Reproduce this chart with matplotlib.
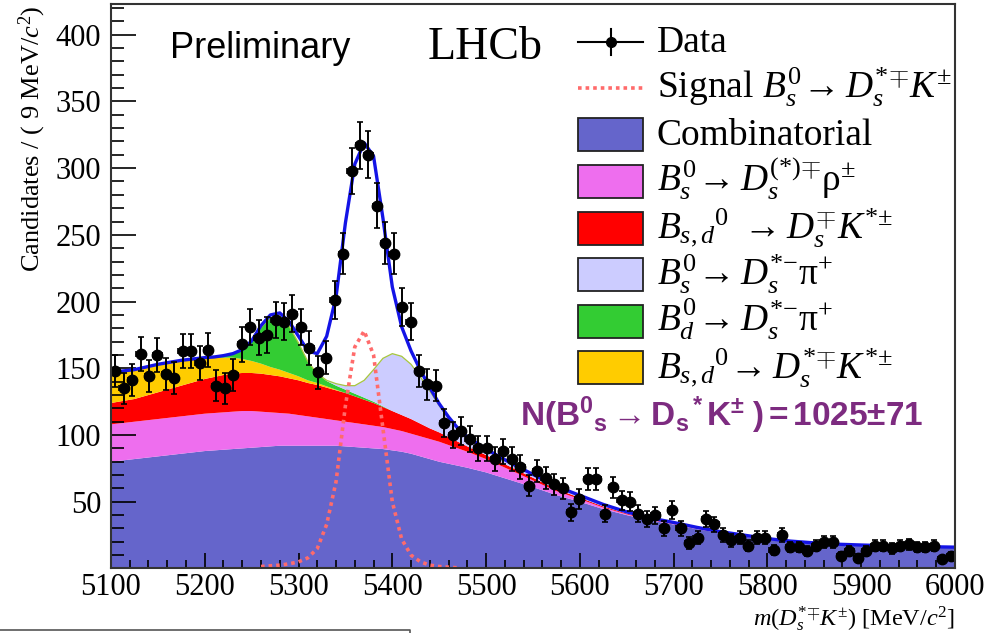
import numpy as np
import matplotlib
matplotlib.use("Agg")
import matplotlib.pyplot as plt
from matplotlib.patches import Rectangle
from matplotlib.lines import Line2D

plt.rcParams["font.family"] = "Liberation Serif"
plt.rcParams["mathtext.fontset"] = "custom"
plt.rcParams["mathtext.rm"] = "Liberation Serif"
plt.rcParams["mathtext.it"] = "Liberation Serif:italic"
plt.rcParams["mathtext.bf"] = "Liberation Sans:bold"
plt.rcParams["mathtext.sf"] = "Liberation Sans"

# data: candidates per 9 MeV bin, 5100-6000
counts = np.array([
    148, 135, 141, 161, 144, 160, 146, 143, 163, 163,
    154, 164, 137, 135, 145, 168, 181, 173, 175, 186,
    185, 191, 181, 165, 147, 158, 201, 236, 298, 317,
    310, 272, 244, 236, 196, 185, 148, 138, 137, 109,
    100, 103, 97, 90, 90, 82, 88, 82, 76, 62,
    73, 68, 63, 60, 42, 52, 67, 67, 41, 61,
    51, 50, 41, 37, 40, 30, 44, 30, 19, 23,
    37, 33, 25, 21, 23, 17, 23, 23, 14, 25,
    16, 16, 13, 17, 20, 20, 9, 13, 8, 13,
    17, 17, 15, 17, 18, 16, 16, 17, 7, 9,
])
bin_centers = 5104.5 + 9 * np.arange(len(counts))

# fit components
mass_grid = np.array([
    5100, 5125, 5150, 5175, 5200, 5210, 5220, 5230, 5240, 5250,
    5260, 5270, 5280, 5290, 5300, 5310, 5320, 5330, 5340, 5350,
    5360, 5370, 5380, 5390, 5400, 5410, 5420, 5430, 5440, 5450,
    5460, 5470, 5480, 5500, 5525, 5550, 5575, 5600, 5625, 5650,
    5675, 5700, 5725, 5750, 5775, 5800, 5825, 5850, 5875, 5900,
    5925, 5950, 5975, 6000,
])
comb = np.array([
    80, 82, 84, 86, 88, 88.5, 89, 89.5, 90, 90.5,
    91, 91.5, 92, 92, 92, 92, 92, 92, 92, 91.5,
    91, 90.5, 90, 89.5, 88.5, 87.5, 86, 84, 82, 80,
    78.5, 77, 75.5, 72, 66.5, 61, 55, 50, 44.5, 40,
    36, 33, 29.5, 26.5, 24, 21.5, 19.8, 18.5, 17.5, 17,
    16.5, 16, 15.7, 15.4,
])
ds_rho = np.array([
    28, 28, 28, 28, 28, 28, 28, 28, 28, 27.5,
    26.5, 25.5, 24.5, 24, 23, 22, 21, 20, 19, 18.5,
    18, 17.5, 17, 16.5, 16, 15.5, 15, 15, 15, 15,
    14, 13, 12, 10, 7.5, 5, 3, 2, 1.2, 0.6,
    0.4, 0.3, 0.3, 0.2, 0.2, 0.2, 0.1, 0.1, 0.1, 0.1,
    0.1, 0.1, 0.1, 0.1,
])
ds_kst = np.array([
    16, 17, 20, 23, 26, 27, 28, 28.5, 28.5, 28.5,
    28.5, 28, 27.5, 26.5, 26, 25, 24.5, 23.5, 22.5, 21.5,
    20, 18.5, 17, 15, 13.5, 12, 11, 9.5, 8, 7,
    6, 5, 4, 3, 2.5, 2, 1.5, 1, 0.8, 0.6,
    0.5, 0.4, 0.3, 0.3, 0.3, 0.2, 0.2, 0.2, 0.2, 0.2,
    0.2, 0.2, 0.2, 0.2,
])
dsst_kst = np.array([
    23, 22, 21, 19, 16, 14.5, 13, 12, 10.5, 9,
    7.5, 6, 5, 4, 3, 2, 1.5, 1, 0.5, 0,
    0, 0, 0, 0, 0, 0, 0, 0, 0, 0,
    0, 0, 0, 0, 0, 0, 0, 0, 0, 0,
    0, 0, 0, 0, 0, 0, 0, 0, 0, 0,
    0, 0, 0, 0,
])
bd_dsst_pi = np.array([
    0, 0, 0, 0, 0, 0.5, 1.5, 3, 7, 15,
    27, 37, 40, 35, 25, 14, 7, 4, 3, 2.5,
    2, 1.5, 1, 0.5, 0, 0, 0, 0, 0, 0,
    0, 0, 0, 0, 0, 0, 0, 0, 0, 0,
    0, 0, 0, 0, 0, 0, 0, 0, 0, 0,
    0, 0, 0, 0,
])
bs_dsst_pi = np.array([
    0, 0, 0, 0, 0, 0, 0, 0, 0, 0,
    0, 0, 0, 0, 0, 0, 0, 0.5, 1.5, 3,
    6, 13, 24, 36, 43, 44, 41, 35, 28, 20,
    14, 9.5, 7, 4.5, 3, 2.5, 2, 1.8, 1.5, 1.2,
    1, 0.8, 0.7, 0.6, 0.5, 0.5, 0.4, 0.4, 0.4, 0.3,
    0.3, 0.3, 0.3, 0.3,
])
signal = np.array([
    0, 0, 0, 0, 0, 0, 0, 0, 0, 0,
    1.5, 2, 2.5, 3.5, 5, 8, 15, 33, 65, 122,
    166, 178, 160, 105, 50, 22, 10, 5, 2.5, 1.5,
    1, 0.5, 0, 0, 0, 0, 0, 0, 0, 0,
    0, 0, 0, 0, 0, 0, 0, 0, 0, 0,
    0, 0, 0, 0,
])

comp_colors = ["#6565CB", "#EE6EEE", "#FF0000", "#FFCC00", "#33CC33", "#CCCCFF"]
comp_labels = [
    "Combinatorial",
    r"$B_s^0\!\rightarrow D_s^{(*){\mp}}\mathrm{\rho}^{\pm}$",
    r"$B_{s,d}{}^0\ \rightarrow D_s^{\mp}K^{*{\pm}}$",
    r"$B_s^0\!\rightarrow D_s^{*{-}}\mathrm{\pi}^{+}$",
    r"$B_d^0\!\rightarrow D_s^{*{-}}\mathrm{\pi}^{+}$",
    r"$B_{s,d}{}^0\!\rightarrow D_s^{*{\mp}}K^{*{\pm}}$",
]
legend_colors = ["#6565CB", "#EE6EEE", "#FF0000", "#CCCCFF", "#33CC33", "#FFCC00"]

fig = plt.figure(figsize=(10.06, 6.33), dpi=100)
ax = fig.add_axes([0.1103, 0.1019, 0.8390, 0.8918])

ax.stackplot(mass_grid, comb, ds_rho, ds_kst, dsst_kst, bd_dsst_pi, bs_dsst_pi,
             colors=comp_colors, linewidth=0)
bkg_top = comb + ds_rho + ds_kst + dsst_kst + bd_dsst_pi + bs_dsst_pi
total = bkg_top + signal
ax.plot(mass_grid, bkg_top, color="#A8C83C", lw=0.9)
ax.plot(mass_grid, np.where(signal > 0, signal, np.nan), color="#FF6B6B",
        lw=2.6, ls=(0, (1, 1.1)))
ax.plot(mass_grid, total, color="#1414E6", lw=2.4)
ax.errorbar(bin_centers, counts, yerr=np.sqrt(counts), xerr=4.5, fmt="o",
            color="black", ms=7.5, elinewidth=1.4, capsize=2, capthick=1.2)

ax.set_xlim(5100, 6000)
ax.set_ylim(0, 423)
ax.set_xticks(np.arange(5100, 6001, 100))
ax.set_xticks(np.arange(5100, 6001, 20), minor=True)
ax.set_yticks(np.arange(50, 401, 50))
ax.set_yticks(np.arange(0, 421, 10), minor=True)
ax.tick_params(axis="both", which="both", direction="in", width=1.2, labelsize=22)
ax.tick_params(axis="y", which="major", length=18, pad=7)
ax.tick_params(axis="y", which="minor", length=9)
ax.tick_params(axis="x", which="major", length=11, pad=3)
ax.tick_params(axis="x", which="minor", length=5.5)
for s in ax.spines.values():
    s.set_color("#333333")
    s.set_linewidth(1.5)


def ax_x(px):
    return (px - 111) / 844


def ax_y(py):
    return (568.5 - py) / 564.5


# legend, drawn by hand like the ROOT one
row0, step = 41.7, 46.6
x0, x1 = ax_x(578), ax_x(643)
yc = ax_y(row0)
ax.plot([x0, x1], [yc, yc], color="black", lw=1.5, transform=ax.transAxes)
ax.plot([ax_x(611)] * 2, [ax_y(row0 - 13), ax_y(row0 + 13)], color="black",
        lw=1.5, transform=ax.transAxes)
ax.plot([ax_x(611)], [yc], "o", color="black", ms=7, transform=ax.transAxes)
ax.text(ax_x(657), ax_y(row0 + 10), "Data", fontsize=27, va="baseline",
        transform=ax.transAxes)
yc = ax_y(row0 + step)
ax.plot([x0, x1], [yc, yc], color="#FF6B6B", lw=2.6, ls=(0, (1, 1.1)),
        transform=ax.transAxes)
ax.text(ax_x(657), ax_y(row0 + step + 10),
        r"Signal $B_s^0\!\rightarrow D_s^{*{\mp}}K^{\pm}$", fontsize=27,
        va="baseline", transform=ax.transAxes)
for i, (lab, col) in enumerate(zip(comp_labels, legend_colors)):
    cy = row0 + (i + 2) * step
    ax.add_patch(Rectangle((x0, ax_y(cy + 16.5)), x1 - x0, ax_y(cy - 16.5) - ax_y(cy + 16.5),
                           facecolor=col, edgecolor="#222222", lw=1.3,
                           transform=ax.transAxes, clip_on=False))
    ax.text(ax_x(657), ax_y(cy + 10), lab, fontsize=27, va="baseline",
            transform=ax.transAxes)

ax.text(ax_x(170), ax_y(58), "Preliminary", family="Liberation Sans",
        fontsize=26, va="baseline", transform=ax.transAxes)
ax.text(ax_x(428), ax_y(59), "LHCb", fontsize=33, va="baseline",
        transform=ax.transAxes)
ax.text(ax_x(520), ax_y(426),
        r"$\mathbf{N(B^0{}_s{\rightarrow}D_s{}^*K^{\pm}\ ){=}1025{\pm}71}$",
        color="#7D2B80", fontsize=24, va="baseline", transform=ax.transAxes)

fig.text(32 / 1006, 1 - 5 / 633, r"Candidates / ( 9 MeV/$c^2$)", rotation=90,
         ha="center", va="top", fontsize=19)
fig.text(955 / 1006, 1 - 626 / 633, r"$m(D_s^{*{\mp}}K^{\pm})$ [MeV/$c^2$]",
         ha="right", va="baseline", fontsize=17.5)

fig.add_artist(Line2D([0, 410 / 1006, 410 / 1006], [3 / 633, 3 / 633, 0],
                      transform=fig.transFigure, color="#555555", lw=1.2))

fig.savefig("out.png", dpi=100)
